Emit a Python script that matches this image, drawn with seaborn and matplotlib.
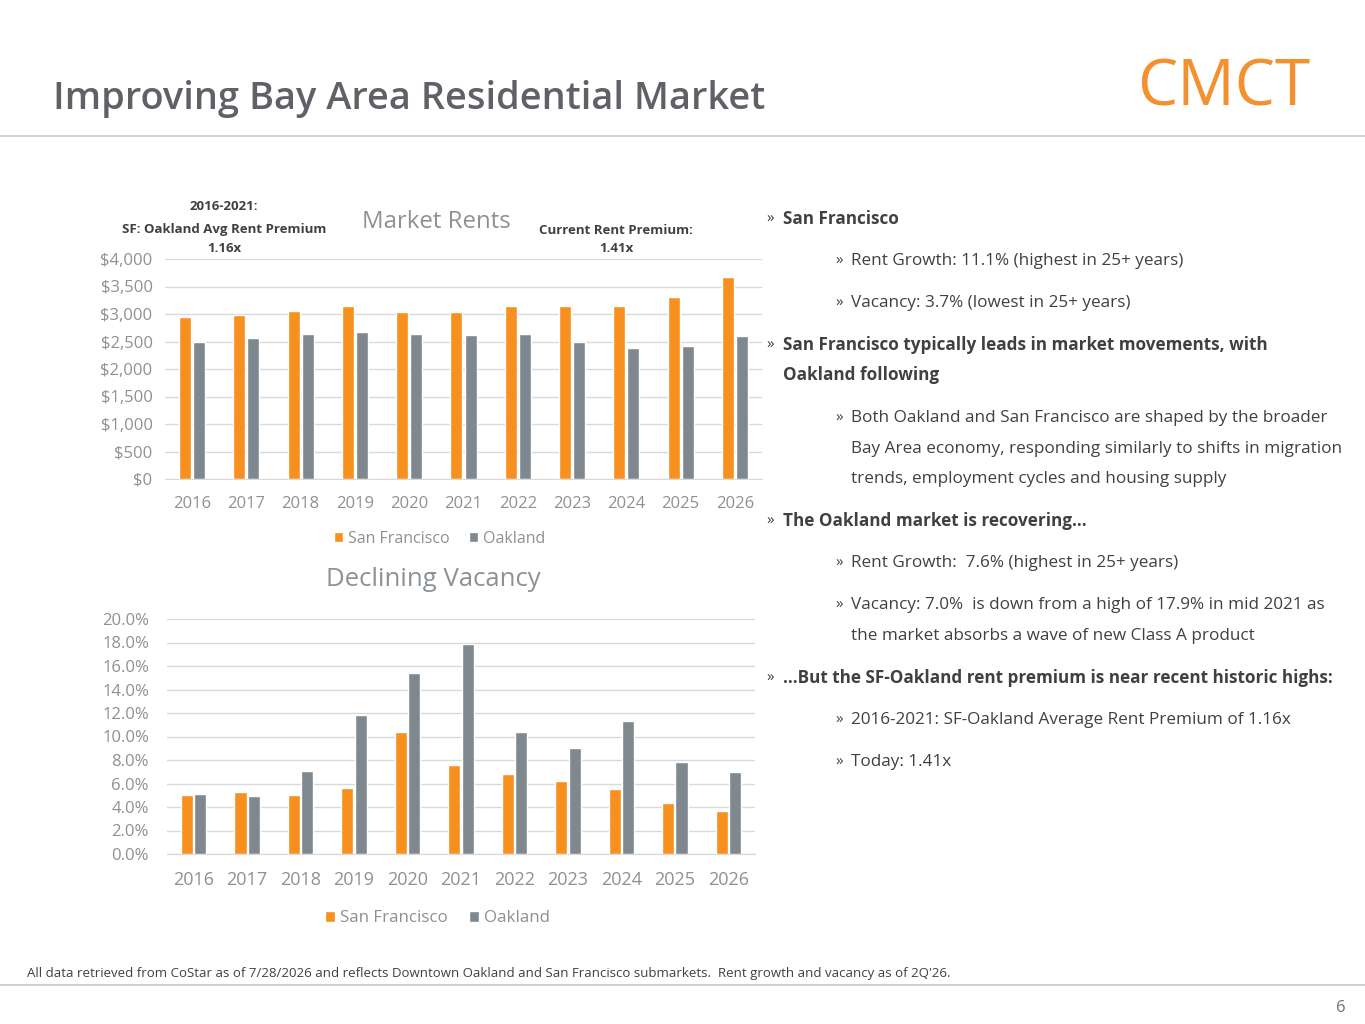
import pandas as pd
import matplotlib.pyplot as plt
import seaborn as sns
from matplotlib.ticker import FuncFormatter
from matplotlib.lines import Line2D

# chart data
years = ['2016', '2017', '2018', '2019', '2020', '2021', '2022', '2023', '2024', '2025', '2026']
sf_rent = [2950, 2980, 3050, 3140, 3040, 3040, 3150, 3140, 3150, 3310, 3680]
oak_rent = [2500, 2555, 2630, 2675, 2645, 2615, 2630, 2500, 2380, 2420, 2600]
sf_vacancy = [5.0, 5.3, 5.0, 5.6, 10.4, 7.6, 6.8, 6.2, 5.5, 4.3, 3.7]
oak_vacancy = [5.1, 4.95, 7.1, 11.8, 15.4, 17.9, 10.4, 9.0, 11.3, 7.8, 7.0]
cities = ['San Francisco', 'Oakland']

ORANGE = '#F7901E'
GREY = '#7F888E'
TICK = '#8C9196'
DARK = '#5F6166'
palette = {'San Francisco': ORANGE, 'Oakland': GREY}

rents = pd.DataFrame({'year': years * 2,
                      'city': [cities[0]] * 11 + [cities[1]] * 11,
                      'value': sf_rent + oak_rent})
vacancy = pd.DataFrame({'year': years * 2,
                        'city': [cities[0]] * 11 + [cities[1]] * 11,
                        'value': sf_vacancy + oak_vacancy})

sns.set_style('white')
plt.rcParams['font.family'] = ['Open Sans', 'DejaVu Sans']

fig = plt.figure(figsize=(13.65, 10.24), dpi=100)

# header and footer
fig.text(53 / 1365, 1 - 99 / 1024, 'Improving Bay Area Residential Market',
         fontsize=27.4, fontweight='semibold', color=DARK, va='center', ha='left')
fig.text(1310 / 1365, 1 - 88 / 1024, 'CMCT', fontsize=46, color='#F39130',
         va='center', ha='right')
fig.add_artist(Line2D([0, 1], [1 - 136 / 1024] * 2, color='#C8C8C8', lw=1.2))
fig.add_artist(Line2D([0, 1], [1 - 985 / 1024] * 2, color='#C8C8C8', lw=1.2))
fig.text(27 / 1365, 1 - 973 / 1024,
         'All data retrieved from CoStar as of 7/28/2026 and reflects Downtown Oakland and San Francisco '
         'submarkets.  Rent growth and vacancy as of 2Q\'26.',
         fontsize=9.55, color='#404040', va='center', ha='left')
fig.text(1346 / 1365, 1 - 1008 / 1024, '6', fontsize=12, color='#707070', va='center', ha='right')


def style_axis(ax, ymax, step, fmt, xsize, ypad):
    ax.set_xlim(-0.5, 10.5)
    ax.set_ylim(0, ymax)
    ax.set_yticks([i * step for i in range(int(round(ymax / step)) + 1)])
    ax.yaxis.set_major_formatter(FuncFormatter(fmt))
    ax.grid(axis='y', color='#D9D9D9', lw=1)
    ax.set_axisbelow(True)
    for s in ['top', 'right', 'left']:
        ax.spines[s].set_visible(False)
    ax.spines['bottom'].set_color('#D9D9D9')
    ax.tick_params(axis='y', colors=TICK, labelsize=12, length=0, pad=ypad)
    ax.tick_params(axis='x', colors=TICK, labelsize=xsize, length=0, pad=12)
    ax.set_xlabel('')
    ax.set_ylabel('')


# market rents
ax1 = fig.add_axes([165 / 1365, 1 - 479 / 1024, 597 / 1365, 220 / 1024])
sns.barplot(data=rents, x='year', y='value', hue='city', palette=palette,
            width=0.52, gap=0.15, ax=ax1, saturation=1)
style_axis(ax1, 4000, 500, lambda v, p: '${:,.0f}'.format(v), 12, 9)
ax1.legend(loc='upper center', bbox_to_anchor=(0.46, -0.17), ncol=2, frameon=False,
           fontsize=11.5, labelcolor=TICK, handlelength=0.6, handleheight=0.6,
           handletextpad=0.3, columnspacing=1.2)
fig.text(436 / 1365, 1 - 222 / 1024, 'Market Rents', fontsize=17.3, color=TICK, ha='center', va='center')
for txt, x, y in [('2016-2021:', 224, 206), ('SF: Oakland Avg Rent Premium', 224, 230),
                  ('1.16x', 224, 248), ('Current Rent Premium:', 616, 230), ('1.41x', 616, 248)]:
    fig.text(x / 1365, 1 - y / 1024, txt, fontsize=9.5, fontweight='bold', color='#404040',
             ha='center', va='center')

# declining vacancy
ax2 = fig.add_axes([167 / 1365, 1 - 854 / 1024, 588 / 1365, 235 / 1024])
sns.barplot(data=vacancy, x='year', y='value', hue='city', palette=palette,
            width=0.5, gap=0.1, ax=ax2, saturation=1)
style_axis(ax2, 20, 2, lambda v, p: '{:.1f}%'.format(v), 13, 13)
ax2.legend(loc='upper center', bbox_to_anchor=(0.46, -0.175), ncol=2, frameon=False,
           fontsize=12.2, labelcolor=TICK, handlelength=0.6, handleheight=0.6,
           handletextpad=0.3, columnspacing=1.2)
fig.text(433 / 1365, 1 - 580 / 1024, 'Declining Vacancy', fontsize=18.5, color=TICK,
         ha='center', va='center')

# bullet text on the right
bullets = [
    (0, True, 217, 'San Francisco'),
    (1, False, 259, 'Rent Growth: 11.1% (highest in 25+ years)'),
    (1, False, 301, 'Vacancy: 3.7% (lowest in 25+ years)'),
    (0, True, 343, 'San Francisco typically leads in market movements, with'),
    (0, True, 373, None, 'Oakland following'),
    (1, False, 416, 'Both Oakland and San Francisco are shaped by the broader'),
    (1, False, 447, None, 'Bay Area economy, responding similarly to shifts in migration'),
    (1, False, 477, None, 'trends, employment cycles and housing supply'),
    (0, True, 519, 'The Oakland market is recovering…'),
    (1, False, 561, 'Rent Growth:  7.6% (highest in 25+ years)'),
    (1, False, 603, 'Vacancy: 7.0%  is down from a high of 17.9% in mid 2021 as'),
    (1, False, 634, None, 'the market absorbs a wave of new Class A product'),
    (0, True, 676, '…But the SF-Oakland rent premium is near recent historic highs:'),
    (1, False, 718, '2016-2021: SF-Oakland Average Rent Premium of 1.16x'),
    (1, False, 760, 'Today: 1.41x'),
]
for item in bullets:
    level, bold, y = item[0], item[1], item[2] + 2
    text = item[3] if item[3] is not None else item[4]
    mark_x = 766 if level == 0 else 835
    text_x = 783 if level == 0 else 851
    if item[3] is not None:
        fig.text(mark_x / 1365, 1 - y / 1024, '»', fontsize=11, color='#404040', va='center')
    fig.text(text_x / 1365, 1 - y / 1024, text, fontsize=12.3, color='#404040',
             fontweight='bold' if bold else 'normal', va='center')

fig.savefig('out.png', dpi=100)
